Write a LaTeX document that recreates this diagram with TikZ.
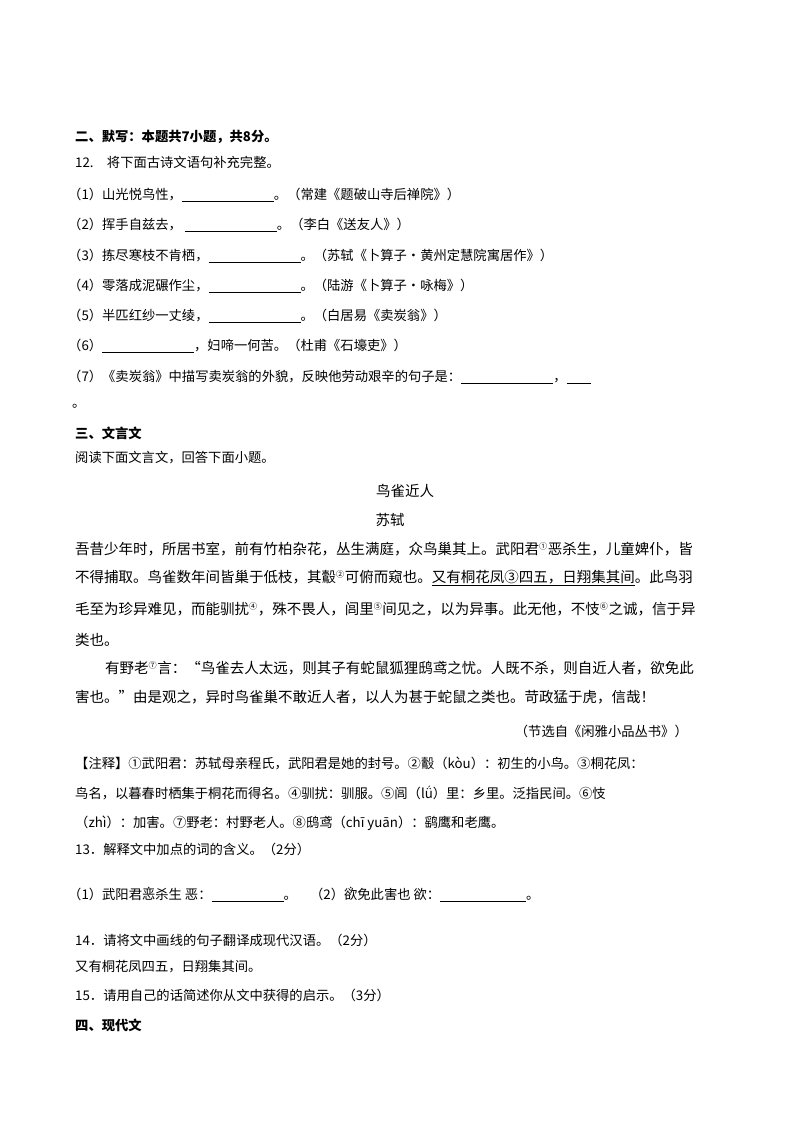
\documentclass[tikz,border=0pt]{standalone}
\usepackage{fontspec}
\setmainfont{Noto Sans CJK SC}
\newcommand{\blank}[1]{\rule[-2pt]{#1pt}{0.5pt}}
\newcommand{\supn}[1]{\textsuperscript{\scalebox{0.8}{#1}}}
\newcommand{\dotc}[1]{\makebox[0pt][l]{\makebox[1em][c]{\raisebox{0.85em}{\tikz\fill (0,0) circle (0.8pt);}}}#1}
\begin{document}
\begin{tikzpicture}[x=1pt,y=-1pt,
  t/.style={anchor=west,inner sep=0pt,font=\fontsize{13.3}{15}\selectfont},
  p/.style={anchor=west,inner sep=0pt,font=\fontsize{14.5}{16}\selectfont},
  h/.style={t,font=\fontsize{13.3}{15}\selectfont\bfseries}]
\useasboundingbox[fill=white] (0,0) rectangle (800,1132);
\node[h] (s2) at (75,137) {二、默写：本题共7小题，共8分。};
\node[t] (q12) at (75,162) {12.\quad 将下面古诗文语句补充完整。};
\node[t] (a1) at (68,195) {（1）山光悦鸟性，\blank{92}。（常建《题破山寺后禅院》）};
\node[t] (a2) at (68,225) {（2）挥手自兹去，\ \blank{92}。（李白《送友人》）};
\node[t] (a3) at (68,256) {（3）拣尽寒枝不肯栖，\blank{92}。（苏轼《卜算子·黄州定慧院寓居作》）};
\node[t] (a4) at (68,286) {（4）零落成泥碾作尘，\blank{92}。（陆游《卜算子·咏梅》）};
\node[t] (a5) at (68,316) {（5）半匹红纱一丈绫，\blank{92}。（白居易《卖炭翁》）};
\node[t] (a6) at (68,346) {（6）\blank{92}，妇啼一何苦。（杜甫《石壕吏》）};
\node[t] (a7) at (68,377) {（7）《卖炭翁》中描写卖炭翁的外貌，反映他劳动艰辛的句子是：\blank{92}，\blank{24}};
\node[t] (a7b) at (72,406) {。};
\node[h] (s3) at (75,433) {三、文言文};
\node[t] (rd) at (75,458) {阅读下面文言文，回答下面小题。};
\node[p,anchor=center] (ti) at (405,491) {鸟雀近人};
\node[p,anchor=center] (au) at (390,520) {苏轼};
\node[p] (l1) at (75,549) {吾昔少年时，所居书室，前有竹柏杂花，丛生满庭，众鸟巢其上。武阳君\supn{①}恶杀生，儿童婢仆，皆};
\node[p] (l2) at (75,578) {不得捕取。鸟雀数年间皆巢于低枝，其鷇\supn{②}可俯而窥也。\underline{又有桐花凤③四五，日翔集其间}。此鸟羽};
\node[p] (l3) at (75,609) {毛至为珍异难见，而能驯扰\supn{④}，殊不畏人，闾里\supn{⑤}间见之，以为异事。此无他，不忮\supn{⑥}之诚，信于异};
\node[p] (l4) at (75,640) {类也。};
\node[p] (l5) at (105,668) {有野老\supn{⑦}言：“鸟雀去人太远，则其子有蛇鼠狐狸鸱鸢之忧。人既不杀，则自近人者，欲免此};
\node[p] (l6) at (75,697) {害也。”由是观之，异时鸟雀巢不敢近人者，以人为甚于蛇鼠之类也。苛政猛于虎，信哉！};
\node[t,anchor=east] (src) at (688,731) {（节选自《闲雅小品丛书》）};
\node[t] (n1) at (75,763) {【注释】①武阳君：苏轼母亲程氏，武阳君是她的封号。②鷇（kòu）：初生的小鸟。③桐花凤：};
\node[t] (n2) at (75,793) {鸟名，以暮春时栖集于桐花而得名。④驯扰：驯服。⑤闾（lǘ）里：乡里。泛指民间。⑥忮};
\node[t] (n3) at (75,823) {（zhì）：加害。⑦野老：村野老人。⑧鸱鸢（chī yuān）：鹞鹰和老鹰。};
\node[t] (q13) at (75,849) {13．解释文中加点的词的含义。（2分）};
\node[t] (q13a) at (68,894) {（1）武阳君\dotc{恶}杀生\ 恶：\blank{72}。\quad（2）\dotc{欲}免此害也\ 欲：\blank{86}。};
\node[t] (q14) at (75,940) {14．请将文中画线的句子翻译成现代汉语。（2分）};
\node[t] (q14a) at (75,967) {又有桐花凤四五，日翔集其间。};
\node[t] (q15) at (75,995) {15．请用自己的话简述你从文中获得的启示。（3分）};
\node[h] (s4) at (75,1025) {四、现代文};
\end{tikzpicture}
\end{document}
